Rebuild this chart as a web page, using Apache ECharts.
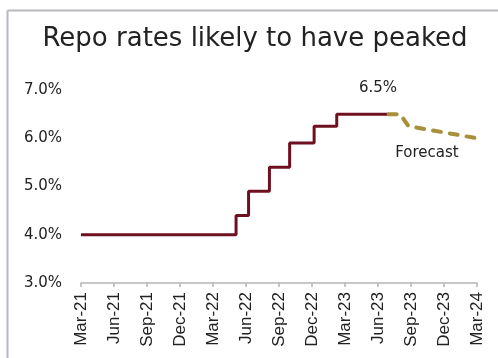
<!DOCTYPE html>
<html>
<head>
<meta charset="utf-8">
<script src="https://cdn.jsdelivr.net/npm/echarts@6/dist/echarts.min.js"></script>
<style>
html,body{margin:0;padding:0;background:#fff;}
#c{width:498px;height:358px;}
</style>
</head>
<body>
<div id="c"></div>
<script>
// ---- data ----
const tickLabels = ['Mar-21','Jun-21','Sep-21','Dec-21','Mar-22','Jun-22','Sep-22','Dec-22','Mar-23','Jun-23','Sep-23','Dec-23','Mar-24'];
const yTicks = [3.0, 4.0, 5.0, 6.0, 7.0];
const actualDates = ['2021-03-01','2022-05-04','2022-06-08','2022-08-05','2022-09-30','2022-12-07','2023-02-08','2023-06-30'];
const actualRates = [4.0, 4.4, 4.9, 5.4, 5.9, 6.25, 6.5, 6.5];
const forecastDates = ['2023-06-30','2023-08-01','2023-08-25','2024-03-01'];
const forecastRates = [6.5, 6.5, 6.25, 6.0];

function toMonths(s){
  const [y,m,d] = s.split('-').map(Number);
  const dim = new Date(y, m, 0).getDate();
  return (y-2021)*12 + (m-3) + (d-1)/dim;
}
const actual = actualDates.map((d,i)=>[toMonths(d), actualRates[i]]);
const forecast = forecastDates.map((d,i)=>[toMonths(d), forecastRates[i]]);

const chart = echarts.init(document.getElementById('c'), null, {renderer:'canvas'});
const geo = '"DejaVu Sans", "Noto Sans", sans-serif';
chart.setOption({
  animation:false,
  backgroundColor:'#fff',
  grid:{left:81, right:21, top:90, bottom:75},
  xAxis:{
    type:'value', min:0, max:36, interval:3,
    axisLine:{show:true, lineStyle:{color:'#b5b5b5', width:1.5}},
    axisTick:{show:true, length:4, lineStyle:{color:'#b5b5b5', width:1.5}},
    splitLine:{show:false},
    axisLabel:{
      rotate:90, margin:9, color:'#222', fontSize:17,
      fontFamily:'"Liberation Sans", Arial, sans-serif',
      formatter:(v)=>tickLabels[Math.round(v/3)]
    }
  },
  yAxis:{
    type:'value', min:yTicks[0], max:yTicks[yTicks.length-1], interval:1,
    axisLine:{show:false}, axisTick:{show:false}, splitLine:{show:false},
    axisLabel:{color:'#222', fontSize:15, fontFamily:geo, margin:19,
      formatter:(v)=>v.toFixed(1)+'%'}
  },
  series:[
    {type:'line', data:actual, step:'end', showSymbol:false,
     lineStyle:{color:'#6e1020', width:3}},
    {type:'line', data:forecast, showSymbol:false,
     lineStyle:{color:'#a8903a', width:4, type:[8,9], cap:'round', join:'round'}}
  ],
  graphic:[
    {type:'line', shape:{x1:7.5,y1:10.5,x2:498,y2:10.5}, style:{stroke:'#b8b8c0', lineWidth:2}},
    {type:'line', shape:{x1:7.5,y1:10.5,x2:7.5,y2:358}, style:{stroke:'#b8b8c0', lineWidth:2}},
    {type:'text', x:255, y:39, style:{text:'Repo rates likely to have peaked', font:'26px '+geo, fill:'#222', textAlign:'center', textVerticalAlign:'middle'}},
    {type:'text', x:378, y:88, style:{text:'6.5%', font:'15px '+geo, fill:'#222', textAlign:'center', textVerticalAlign:'middle'}},
    {type:'text', x:427, y:153, style:{text:'Forecast', font:'15px '+geo, fill:'#222', textAlign:'center', textVerticalAlign:'middle'}}
  ]
});
</script>
</body>
</html>
